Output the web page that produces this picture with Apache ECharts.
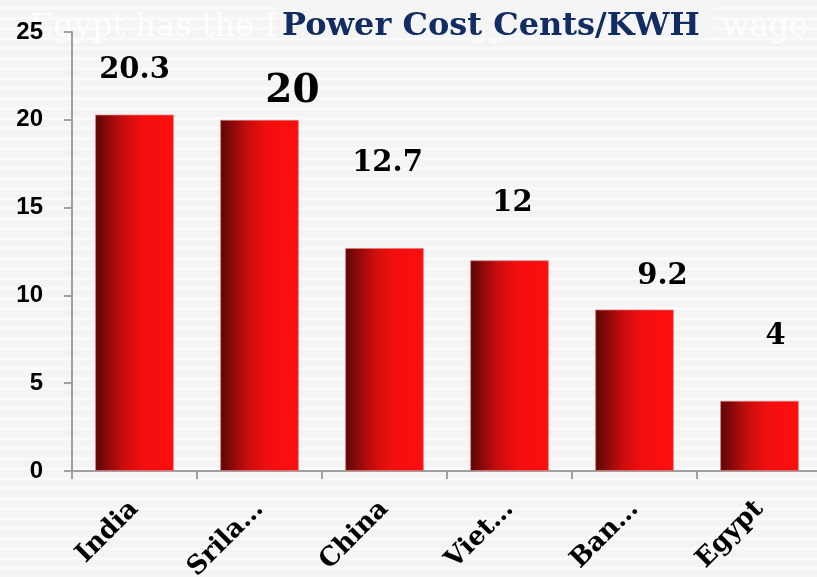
<!DOCTYPE html>
<html>
<head>
<meta charset="utf-8">
<script src="https://cdn.jsdelivr.net/npm/echarts@6/dist/echarts.min.js"></script>
<style>
  html, body { margin: 0; padding: 0; }
  #graph1 { width: 817px; height: 577px; }
</style>
</head>
<body>
<div id="graph1"></div>
<script>
/* 数据 */
var countries = ['India', 'Srila…', 'China', 'Viet…', 'Ban…', 'Egypt'];
var costs = [20.3, 20, 12.7, 12, 9.2, 4]; // cents / KWH
var yTicks = [0, 5, 10, 15, 20, 25];
var titleText = 'Power Cost Cents/KWH';
var ghostLeft = 'Egypt has the Lowest Energy';
var ghostRight = 'cost than wage';

barchartForPowerCost(countries, costs, 'graph1');

function barchartForPowerCost(x, ydata, obj) {
  var myChart = echarts.getInstanceByDom(document.getElementById(obj));
  if (myChart === undefined) {
    var myChart = echarts.init(document.getElementById(obj));
  }

  // striped background
  var bg = document.createElement('canvas');
  bg.width = 4;
  bg.height = 10;
  var ctx = bg.getContext('2d');
  ctx.fillStyle = '#f4f4f4';
  ctx.fillRect(0, 0, 4, 10);
  ctx.fillStyle = '#fafafa';
  ctx.fillRect(0, 7, 4, 3);

  // label placement like the original sheet (distance above bar, x shift, size)
  var labelLook = [
    { d: 30, dx: 0, s: 29 },
    { d: 8, dx: 33, s: 39 },
    { d: 70, dx: 3, s: 29 },
    { d: 42, dx: 3, s: 29 },
    { d: 18, dx: 28, s: 29 },
    { d: 50, dx: 16, s: 29 }
  ];

  var barData = [];
  for (var i in ydata) {
    barData[i] = {
      value: ydata[i],
      label: {
        distance: labelLook[i].d,
        offset: [labelLook[i].dx, 0],
        fontSize: labelLook[i].s
      }
    };
  }

  var option = {
    backgroundColor: { image: bg, repeat: 'repeat' },
    animation: false,
    graphic: [
      {
        type: 'text',
        x: 30,
        y: 12,
        z: 0,
        style: {
          text: ghostLeft,
          fill: 'rgba(255,255,255,0.85)',
          font: '32px "DejaVu Serif"'
        }
      },
      {
        type: 'text',
        x: 808,
        y: 12,
        z: 0,
        style: {
          text: ghostRight,
          align: 'right',
          fill: 'rgba(255,255,255,0.85)',
          font: '32px "DejaVu Serif"'
        }
      },
      {
        // title box hides the middle of the faded line
        type: 'rect',
        z: 5,
        shape: { x: 277, y: 0, width: 436, height: 38 },
        style: { fill: '#f5f5f5' }
      },
      {
        type: 'text',
        x: 282,
        y: 11,
        z: 10,
        style: {
          text: titleText,
          fill: '#132c62',
          font: 'bold 32px "DejaVu Serif"'
        }
      }
    ],
    grid: {
      left: 72,
      top: 32,
      width: 750,
      height: 439,
      outerBoundsMode: 'none'
    },
    xAxis: {
      type: 'category',
      data: x,
      axisLine: {
        lineStyle: { color: '#a0a0a0', width: 2 }
      },
      axisTick: {
        show: true,
        length: 8,
        lineStyle: { color: '#a0a0a0', width: 2 }
      },
      axisLabel: {
        interval: 0,
        rotate: 45,
        margin: 34,
        color: '#000',
        fontFamily: 'DejaVu Serif',
        fontWeight: 'bold',
        fontSize: 26
      }
    },
    yAxis: {
      type: 'value',
      min: yTicks[0],
      max: yTicks[yTicks.length - 1],
      interval: 5,
      splitLine: { show: false },
      axisLine: {
        show: true,
        lineStyle: { color: '#a0a0a0', width: 2 }
      },
      axisTick: {
        show: true,
        length: 8,
        lineStyle: { color: '#a0a0a0', width: 2 }
      },
      axisLabel: {
        margin: 29,
        color: '#000',
        fontFamily: 'Liberation Sans',
        fontWeight: 'bold',
        fontSize: 24
      }
    },
    series: [
      {
        type: 'bar',
        data: barData,
        barCategoryGap: '37%',
        itemStyle: {
          color: {
            type: 'linear',
            x: 0, y: 0, x2: 1, y2: 0,
            colorStops: [
              { offset: 0, color: '#5a0707' },
              { offset: 0.35, color: '#c80d0d' },
              { offset: 0.6, color: '#f20f0f' },
              { offset: 1, color: '#ff0d0d' }
            ]
          },
          borderColor: 'rgba(230,120,120,0.7)',
          borderWidth: 1
        },
        label: {
          show: true,
          position: 'top',
          color: '#000',
          fontFamily: 'DejaVu Serif',
          fontWeight: 'bold'
        }
      }
    ]
  };
  myChart.setOption(option);
}
</script>
</body>
</html>
